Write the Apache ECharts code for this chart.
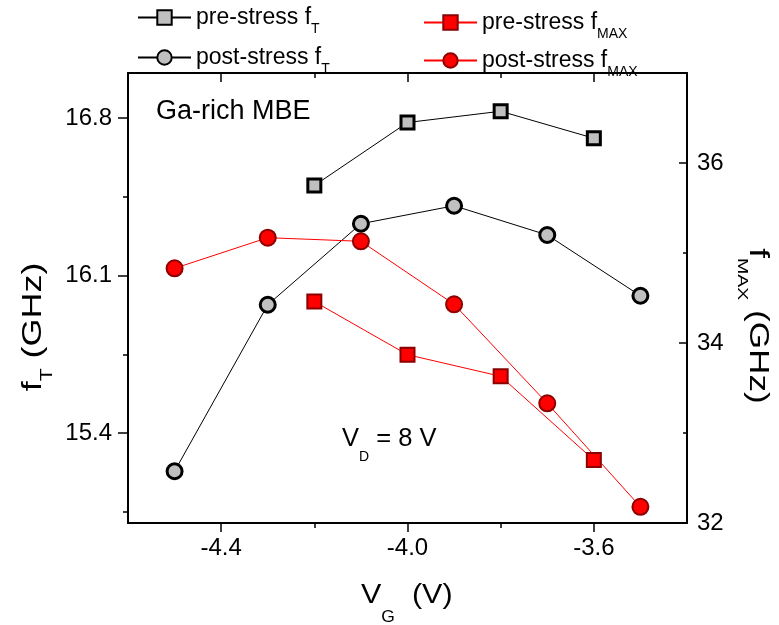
<!DOCTYPE html>
<html><head><meta charset="utf-8">
<script src="https://cdn.jsdelivr.net/npm/echarts@6/dist/echarts.min.js"></script>
<style>html,body{margin:0;padding:0;background:#fff}#c{width:779px;height:625px}</style>
</head><body><div id="c"></div>
<script>
// ---- data ----
const vgPreFT = [-4.2, -4.0, -3.8, -3.6];
const preFT = [16.50, 16.78, 16.83, 16.71];
const vgPostFT = [-4.5, -4.3, -4.1, -3.9, -3.7, -3.5];
const postFT = [15.23, 15.97, 16.33, 16.41, 16.28, 16.01];
const vgPreFMAX = [-4.2, -4.0, -3.8, -3.6];
const preFMAX = [34.46, 33.87, 33.63, 32.70];
const vgPostFMAX = [-4.5, -4.3, -4.1, -3.9, -3.7, -3.5];
const postFMAX = [34.83, 35.17, 35.13, 34.43, 33.33, 32.18];
const xMajorTicks = [-4.4, -4.0, -3.6];
const xMinorTicks = [-4.2, -3.8];
const ftMajorTicks = [15.4, 16.1, 16.8];
const ftMinorTicks = [15.05, 15.75, 16.45];
const fmaxMajorTicks = [32, 34, 36];
const fmaxMinorTicks = [33, 35];
const seriesNames = ['pre-stress fT', 'post-stress fT', 'pre-stress fMAX', 'post-stress fMAX'];

const FONT = 'Liberation Sans, Arial, sans-serif';
const zip = (a, b) => a.map((v, i) => [v, b[i]]);

const chart = echarts.init(document.getElementById('c'), null, {renderer: 'canvas'});

const lineAx = {onZero: false, lineStyle: {color: '#000', width: 2}};
function xAx(pos, ticks, len, inside, labels, showLine) {
  return {
    type: 'value', min: -4.6, max: -3.4, position: pos,
    axisLine: showLine ? lineAx : {show: false},
    axisTick: {show: true, inside: inside, length: len, customValues: ticks, lineStyle: {color: '#000', width: 1.5}},
    axisLabel: labels ? {show: true, customValues: ticks, formatter: v => v.toFixed(1), fontSize: 24, fontFamily: FONT, color: '#000', margin: 13} : {show: false},
    splitLine: {show: false}
  };
}
function yAx(pos, min, max, ticks, len, inside, labels, fmt, margin) {
  return {
    type: 'value', min: min, max: max, position: pos,
    axisLine: labels ? lineAx : {show: false},
    axisTick: {show: true, inside: inside, length: len, customValues: ticks, lineStyle: {color: '#000', width: 1.5}},
    axisLabel: labels ? {show: true, customValues: ticks, formatter: fmt, fontSize: 24, fontFamily: FONT, color: '#000', margin: margin} : {show: false},
    splitLine: {show: false}
  };
}

const legendRich = {
  a: {fontSize: 23, fontFamily: FONT, color: '#000'},
  b: {fontSize: 14, fontFamily: FONT, color: '#000', padding: [24, 0, 0, 0]}
};
function legendFmt(name) {
  const m = name.match(/^(.*f)(T|MAX)$/);
  return '{a|' + m[1] + '}{b|' + m[2] + '}';
}
function mkLegend(name, left, top) {
  return {
    data: [name], left: left, top: top, padding: 0, itemWidth: 53, itemHeight: 18,
    selectedMode: false, formatter: legendFmt,
    textStyle: {rich: legendRich, fontSize: 23, fontFamily: FONT, color: '#000'}
  };
}

const grey = '#c0c0c0', red = '#ff0000', darkRed = '#8b0000';

chart.setOption({
  animation: false,
  backgroundColor: '#fff',
  grid: {left: 128, right: 92, top: 73, bottom: 102, containLabel: false},
  xAxis: [
    xAx('bottom', xMajorTicks, 9, false, true, true),
    xAx('bottom', xMinorTicks, 5, false, false, false),
    xAx('top', xMajorTicks, 9, true, false, true),
    xAx('top', xMinorTicks, 5, true, false, false)
  ],
  yAxis: [
    yAx('left', 15.0, 17.0, ftMajorTicks, 10, false, true, v => v.toFixed(1), 16),
    yAx('left', 15.0, 17.0, ftMinorTicks, 5, false, false),
    yAx('right', 32, 37, fmaxMajorTicks, 8, true, true, v => String(v), 10),
    yAx('right', 32, 37, fmaxMinorTicks, 4, true, false)
  ],
  legend: [
    mkLegend(seriesNames[0], 137, 6),
    mkLegend(seriesNames[1], 137, 46),
    mkLegend(seriesNames[2], 423, 11),
    mkLegend(seriesNames[3], 423, 49)
  ],
  series: [
    {name: seriesNames[0], type: 'line', xAxisIndex: 0, yAxisIndex: 0, data: zip(vgPreFT, preFT),
     symbol: 'rect', symbolSize: 13, itemStyle: {color: grey, borderColor: '#000', borderWidth: 3},
     lineStyle: {color: '#000', width: 1}, emphasis: {disabled: true}},
    {name: seriesNames[1], type: 'line', xAxisIndex: 0, yAxisIndex: 0, data: zip(vgPostFT, postFT),
     symbol: 'circle', symbolSize: 15, itemStyle: {color: grey, borderColor: '#000', borderWidth: 3},
     lineStyle: {color: '#000', width: 1}, emphasis: {disabled: true}},
    {name: seriesNames[2], type: 'line', xAxisIndex: 0, yAxisIndex: 2, data: zip(vgPreFMAX, preFMAX),
     symbol: 'rect', symbolSize: 14, itemStyle: {color: red, borderColor: darkRed, borderWidth: 2},
     lineStyle: {color: red, width: 1}, emphasis: {disabled: true}},
    {name: seriesNames[3], type: 'line', xAxisIndex: 0, yAxisIndex: 2, data: zip(vgPostFMAX, postFMAX),
     symbol: 'circle', symbolSize: 16, itemStyle: {color: red, borderColor: darkRed, borderWidth: 2},
     lineStyle: {color: red, width: 1}, emphasis: {disabled: true}}
  ],
  graphic: [
    {type: 'text', x: 156, y: 112, style: {text: 'Ga-rich MBE', fontSize: 27, fontFamily: FONT, fill: '#000', align: 'left', verticalAlign: 'middle'}},
    {type: 'text', x: 342, y: 439, style: {text: '{a|V}{b|D}{a| = 8 V}', align: 'left', verticalAlign: 'middle',
      rich: {a: {fontSize: 25.5, fontFamily: FONT, fill: '#000'}, b: {fontSize: 14, fontFamily: FONT, fill: '#000', padding: [36, 0, 0, 0]}}}},
    {type: 'text', x: 361, y: 595, scaleX: 1.09, style: {text: '{a|V}{b|G}{a|  (V)}', align: 'left', verticalAlign: 'middle',
      rich: {a: {fontSize: 28, fontFamily: FONT, fill: '#000'}, b: {fontSize: 16, fontFamily: FONT, fill: '#000', padding: [45, 0, 0, 0]}}}},
    {type: 'text', x: 34, y: 327, rotation: Math.PI / 2, scaleX: 1.33, style: {text: '{a|f}{b|T}{a| (GHz)}', align: 'center', verticalAlign: 'middle',
      rich: {a: {fontSize: 27, fontFamily: FONT, fill: '#000'}, b: {fontSize: 16, fontFamily: FONT, fill: '#000', padding: [27, 0, 0, 0]}}}},
    {type: 'text', x: 757, y: 326, rotation: -Math.PI / 2, scaleX: 1.3, style: {text: '{a|f}{b|MAX}{a| (GHz)}', align: 'center', verticalAlign: 'middle',
      rich: {a: {fontSize: 27, fontFamily: FONT, fill: '#000'}, b: {fontSize: 15, fontFamily: FONT, fill: '#000', padding: [30, 0, 0, 0]}}}}
  ]
});
</script>
</body></html>
